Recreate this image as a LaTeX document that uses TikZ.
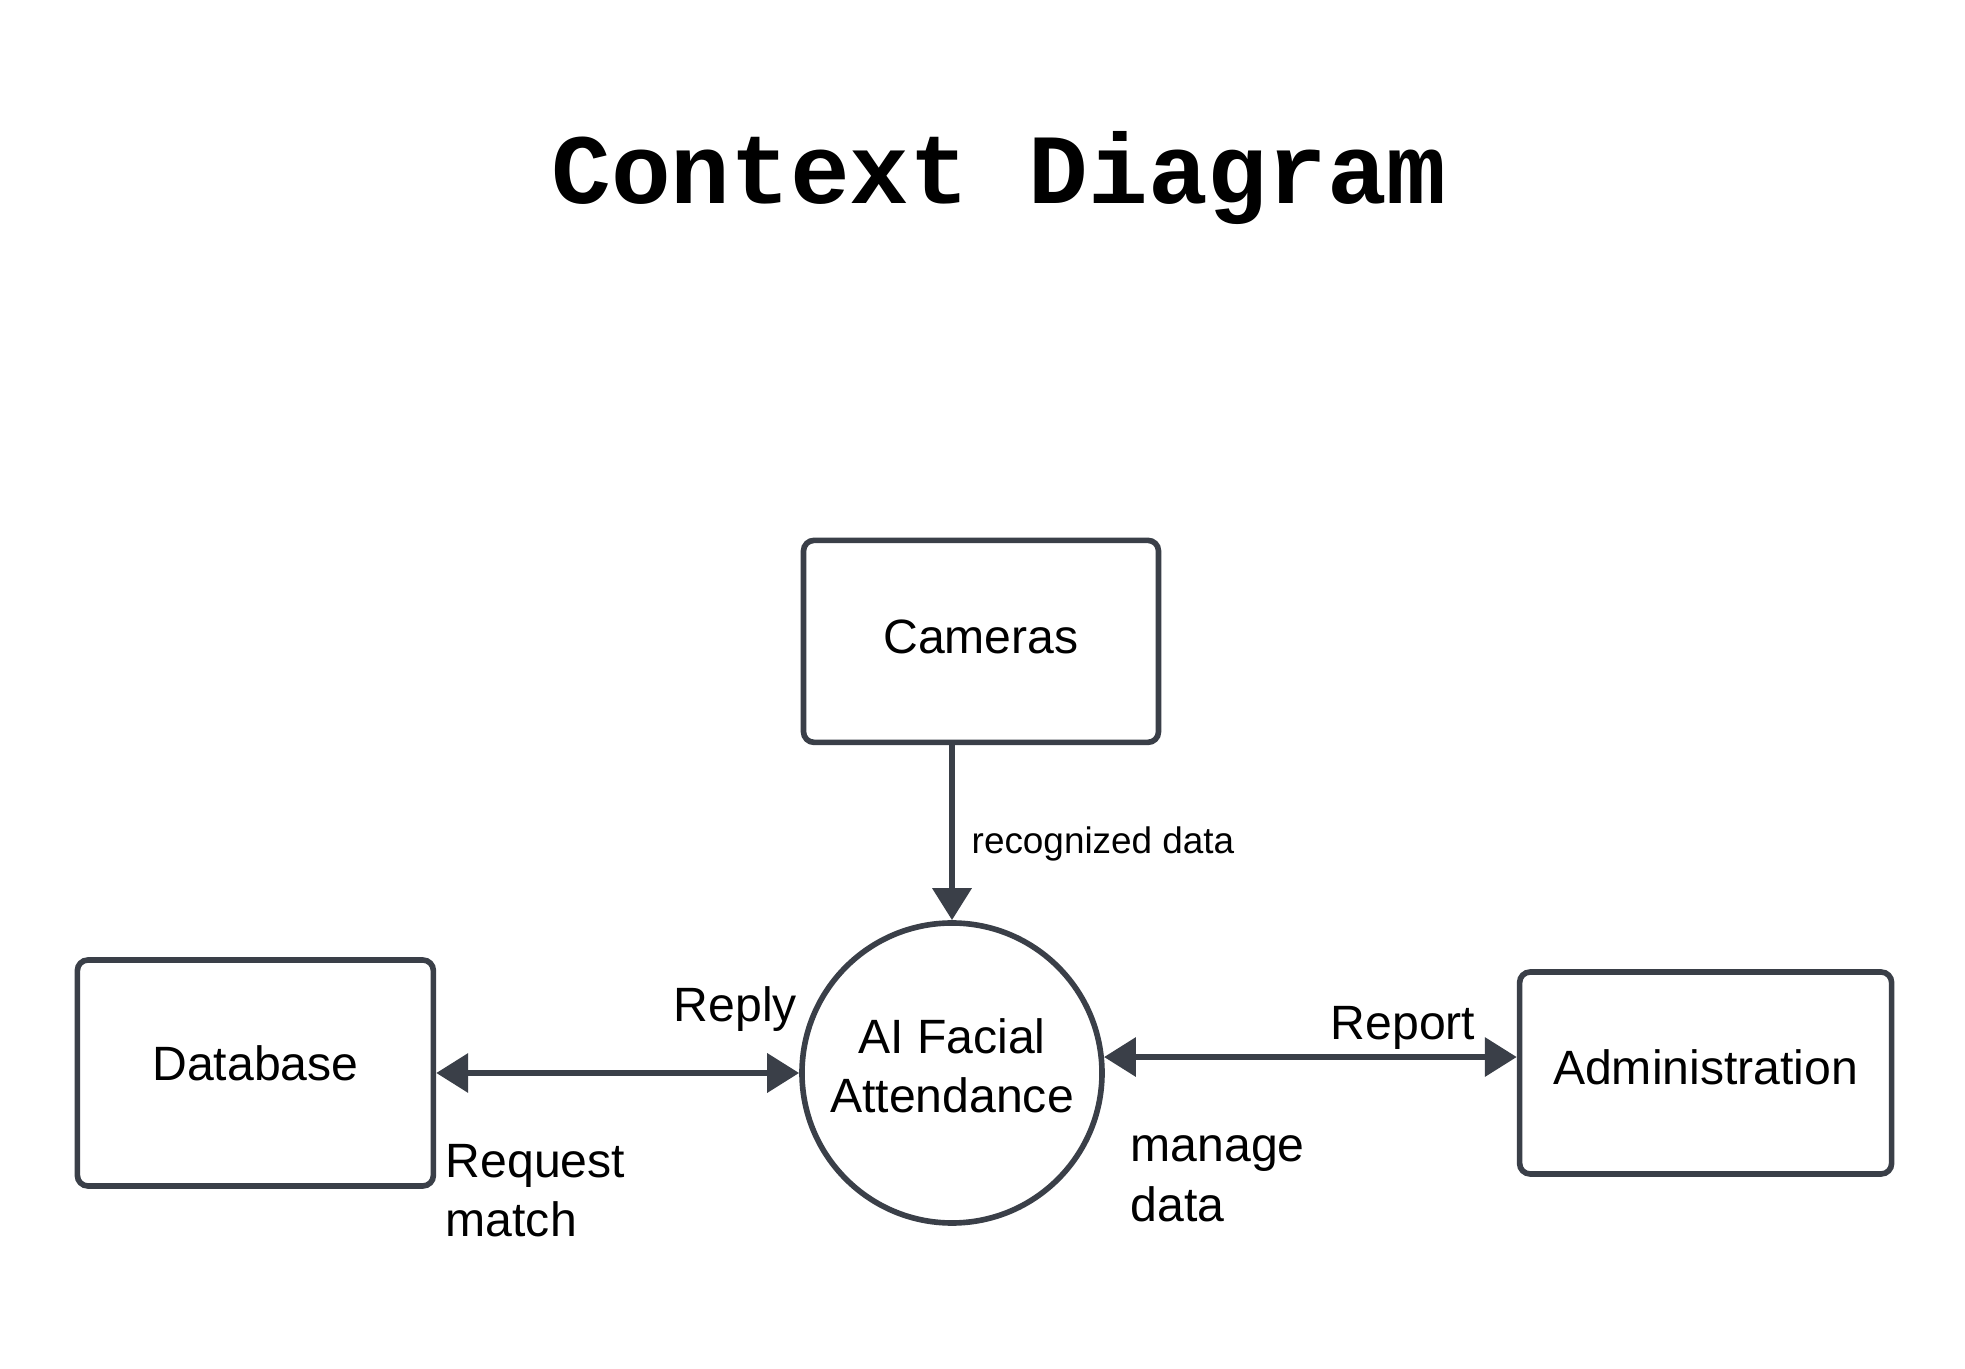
\documentclass[tikz,border=0pt]{standalone}
\usepackage{fontspec}
\setmainfont{Liberation Sans}
\newfontfamily\titlefont{Liberation Mono}
\usetikzlibrary{positioning,arrows.meta}
\definecolor{ink}  {HTML}{3A3F48}
\definecolor{paper}{HTML}{FFFFFF}
\tikzset{
  every node/.style={font=\fontsize{13.7}{16.9}\selectfont},
  % --- nodes
  ent/.style   = {rounded corners=3pt, draw=ink, fill=paper, align=center,
                  inner sep=0pt, line width=1.6pt},
  proc/.style  = {circle, draw=ink, fill=paper, align=center, inner sep=0pt,
                  line width=1.6pt, minimum size=30mm},
  lbl/.style   = {align=left, inner sep=0pt, anchor=base west},
  ttl/.style   = {font=\titlefont\bfseries\fontsize{28.3}{30}\selectfont,
                  inner sep=0pt, anchor=base},
  % --- edges
  tip/.tip     = {Triangle[length=3.2mm, width=3.8mm]},
  e/.style     = {-tip, line width=1.9pt, draw=ink},
  ee/.style    = {tip-tip, line width=1.9pt, draw=ink},
}
\begin{document}
\begin{tikzpicture}
  \useasboundingbox[fill=paper] (0,0) rectangle (19.65,-13.69);

  \node[ttl] (title) at (9.99,-2.04) {Context Diagram};

  \node[proc, text depth=1.5mm] (ai) at (9.52,-10.73) {AI Facial\\Attendance};
  \node[ent, minimum width=35.5mm, minimum height=20.2mm, text depth=1mm,
        above=1.75cm of ai, xshift=2.9mm] (cam) {Cameras};
  \node[ent, minimum width=35.6mm, minimum height=22.6mm, text depth=2mm,
        left=3.63cm of ai] (db) {Database};
  \node[ent, minimum width=37.2mm, minimum height=20.2mm, text depth=1.2mm,
        right=4.12cm of ai] (adm) {Administration};

  \draw[e] (cam.south -| ai) -- (ai.north);
  \draw[ee] (db.east) -- (ai.west);
  \draw[ee] (ai.6.5) -- (adm.west |- ai.6.5);

  \node[lbl, font=\fontsize{10.5}{12.6}\selectfont] (lrec) at (9.71,-8.54) {recognized data};
  \node[lbl] (lreply) at (6.73,-10.22) {Reply};
  \node[lbl] (lreq) at (4.45,-12.37) {Request\\match};
  \node[lbl] (lrep) at (13.30,-10.40) {Report};
  \node[lbl] (lman) at (11.30,-12.21) {manage\\data};
\end{tikzpicture}
\end{document}
